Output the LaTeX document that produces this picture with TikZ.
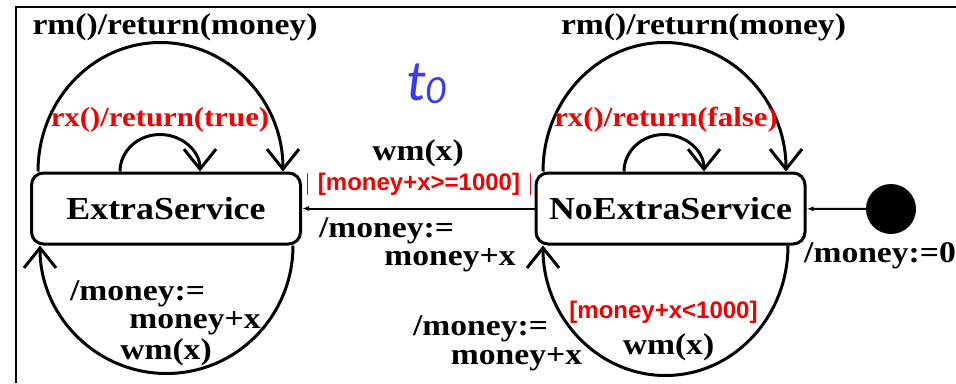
\documentclass[tikz,border=0pt]{standalone}
\usepackage{fontspec}
\setmainfont{Liberation Serif}
\newfontfamily\lbl{Liberation Serif}[FakeStretch=1.12]
\newfontfamily\gsans{Liberation Sans}
\newfontfamily\tfont{Carlito}
\usetikzlibrary{arrows.meta}
\definecolor{tblue}{RGB}{55,60,240}
\definecolor{gred}{RGB}{240,0,0}
\begin{document}
\begin{tikzpicture}[x=1pt,y=1pt,
 stbox/.style={draw,line width=3pt,rounded corners=12pt,minimum width=269pt,minimum height=71pt,inner sep=0pt,font=\lbl\bfseries\fontsize{32}{32}\selectfont},
 lab/.style={inner sep=0pt,font=\lbl\bfseries\fontsize{30}{30}\selectfont},
 rlab/.style={inner sep=0pt,text=gred,font=\lbl\bfseries\fontsize{27.5}{27.5}\selectfont},
 glab/.style={inner sep=0pt,text=gred,font=\gsans\bfseries\fontsize{24}{24}\selectfont},
 loopline/.style={line width=3pt,-{Straight Barb[length=20pt,width=32pt]}},
 flow/.style={line width=2pt,-{Latex[length=7pt,width=5pt]}}]
\useasboundingbox (0,0) rectangle (956,-383);
\fill[white] (0,0) rectangle (956,-383);
\draw[line width=2pt] (16,-383) -- (16,-7) -- (956,-7);

\node[stbox] (es) at (166,-208.5) {ExtraService};
\node[stbox] (nes) at (670.5,-208.5) {NoExtraService};
\node[circle,fill,minimum size=50pt,inner sep=0pt] (init) at (891,-209) {};

% ExtraService loops
\draw[loopline] ([xshift=-128pt]es.north) arc[start angle=180,end angle=0,x radius=122.5pt,y radius=129pt];
\draw[loopline] ([xshift=-46pt]es.north) arc[start angle=180,end angle=0,x radius=40pt,y radius=37pt];
\draw[loopline] ([xshift=127pt]es.south) arc[start angle=0,end angle=-180,x radius=126.5pt,y radius=128pt];

% NoExtraService loops
\draw[loopline] ([xshift=-127.5pt]nes.north) arc[start angle=180,end angle=0,x radius=121.5pt,y radius=129pt];
\draw[loopline] ([xshift=-46.5pt]nes.north) arc[start angle=180,end angle=0,x radius=40pt,y radius=37pt];
\draw[loopline] ([xshift=117.5pt]nes.south) arc[start angle=0,end angle=-180,x radius=122.5pt,y radius=130pt];

\draw[flow] (init) -- (nes);
\draw[flow] (nes) -- (es);

\draw[gred,line width=0.8pt] (307,-173) -- (307,-195);
\draw[gred,line width=0.8pt] (530,-173) -- (530,-195);

% labels
\node[lab] (l1) at (175,-27) {rm()/return(money)};
\node[lab] (l2) at (703.5,-27) {rm()/return(money)};
\node[rlab] (l3) at (160,-120) {rx()/return(true)};
\node[rlab] (l4) at (666,-120) {rx()/return(false)};
\node[inner sep=0pt,anchor=base west,text=tblue,font=\tfont\itshape\fontsize{58}{58}\selectfont] (t0) at (406,-100) {t\raisebox{-3pt}{\fontsize{40}{40}\selectfont 0}};
\node[lab] (l5) at (418,-153) {wm(x)};
\node[glab] (l6) at (419,-184) {[money+x>=1000]};
\node[lab] (l7) at (386.5,-231) {/money:=};
\node[lab] (l8) at (450,-260) {money+x};
\node[lab] (l9) at (137.5,-294) {/money:=};
\node[lab] (l10) at (195,-323) {money+x};
\node[lab] (l11) at (166,-352) {wm(x)};
\node[glab] (l12) at (663.5,-312) {[money+x<1000]};
\node[lab] (l13) at (668.5,-347) {wm(x)};
\node[lab] (l14) at (480.5,-329) {/money:=};
\node[lab] (l15) at (516.5,-359) {money+x};
\node[lab] (l16) at (880,-256) {/money:=0};
\end{tikzpicture}
\end{document}
